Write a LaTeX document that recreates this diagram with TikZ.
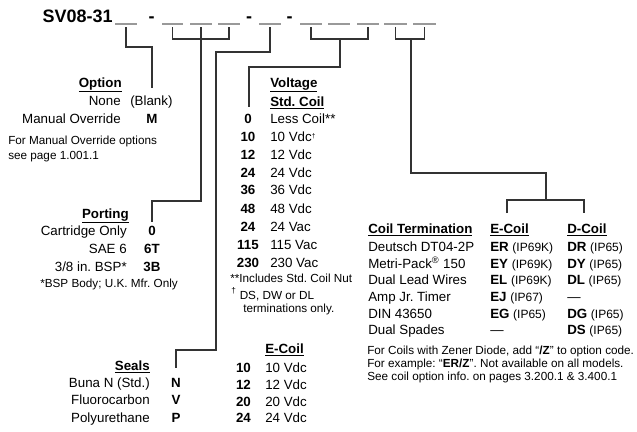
\documentclass[tikz,border=0pt]{standalone}
\usepackage{fontspec}
\setmainfont{Liberation Sans}
\begin{document}
\frenchspacing
\begin{tikzpicture}[x=0.75pt,y=-0.75pt,
  lbl/.style={inner sep=0pt,font=\fontsize{10}{12}\selectfont},
  hdr/.style={inner sep=0pt,font=\fontsize{10}{12}\selectfont\bfseries},
  code/.style={inner sep=0pt,font=\fontsize{10}{12}\selectfont\bfseries},
  note/.style={inner sep=0pt,font=\fontsize{8.8}{10.5}\selectfont},
  conn/.style={draw=black!80,line width=0.9pt},
  blank/.style={draw=black!40,line width=1.1pt}]
\useasboundingbox (0,0) rectangle (637,432);
% model code
\node[inner sep=0pt,anchor=base east,font=\fontsize{13.5}{16}\selectfont\bfseries] (model) at (113,22) {SV08-31};
\foreach \a/\b [count=\k] in {115/137,162/183,190/212,218/240,259/281,300/322,328/350,357/379,384/407,413/436}{
  \draw[blank] (\a,24) -- (\b,24);
  \coordinate (b\k) at ({(\a+\b)/2},27);
}
\foreach \x [count=\k] in {151.5,249,289.5}
  \node[inner sep=0pt,anchor=base,font=\fontsize{13.5}{16}\selectfont\bfseries] (dash\k) at (\x,22) {-};
% option
\node[hdr,anchor=base east] (opthd) at (122,87) {\underline{Option}};
\node[lbl,anchor=base east] (optnone) at (121,105) {None};
\node[lbl,anchor=base west] (optblank) at (130,105) {(Blank)};
\node[lbl,anchor=base east] (optman) at (121,123) {Manual Override};
\node[code,anchor=base] (optM) at (152,123) {M};
\node[note,anchor=base west] (optnote1) at (8,144) {For Manual Override options};
\node[note,anchor=base west] (optnote2) at (8,159) {see page 1.001.1};
\coordinate (optend) at (152,88);
\draw[conn] (b1) -- ++(0,20) -| (optend);
% porting
\node[hdr,anchor=base east] (porthd) at (129,218) {\underline{Porting}};
\foreach \t/\c [count=\i] in {Cartridge Only/0,SAE 6/6T,{3/8 in. BSP*}/3B}{
  \node[lbl,anchor=base east] (portt\i) at (127,{218+17.7*\i}) {\t};
  \node[code,anchor=base] (portc\i) at (152,{218+17.7*\i}) {\c};
}
\node[note,anchor=base west] (portnote) at (40,287) {*BSP Body; U.K. Mfr. Only};
\coordinate (portend) at (152,222);
\draw[conn] (b2) -- ++(0,12) -| (b4);
\draw[conn] (b3) -- ++(0,174) -| (portend);
% seals
\node[hdr,anchor=base east] (sealhd) at (150,370) {\underline{Seals}};
\foreach \t/\c [count=\i] in {Buna N (Std.)/N,Fluorocarbon/V,Polyurethane/P}{
  \node[lbl,anchor=base east] (sealt\i) at (150,{370+17.4*\i}) {\t};
  \node[code,anchor=base] (sealc\i) at (176,{370+17.4*\i}) {\c};
}
\coordinate (sealturn) at (216,350);
\coordinate (sealend) at (176,368);
\draw[conn] (b5) -- ++(0,25) -| (sealturn) -| (sealend);
% voltage
\node[hdr,anchor=base west] (volthd1) at (270,87) {\underline{Voltage}};
\node[hdr,anchor=base west] (volthd2) at (270,106) {\underline{Std. Coil}};
\foreach \c/\t [count=\i] in {0/Less Coil**,10/10 Vdc{\tiny\textsuperscript{\textdagger}},12/12 Vdc,24/24 Vdc,36/36 Vdc,48/48 Vdc,24/24 Vac,115/115 Vac,230/230 Vac}{
  \node[code,anchor=base] (vnum\i) at (248,{105+18*\i}) {\c};
  \node[lbl,anchor=base west] (vtxt\i) at (270,{105+18*\i}) {\t};
}
\node[note,anchor=base west] (vnote1) at (230,282) {**Includes Std. Coil Nut};
\node[note,anchor=base west] (vnote2) at (231,299) {\textsuperscript{\textdagger}\ DS, DW or DL};
\node[note,anchor=base west] (vnote3) at (243,312) {terminations only.};
\coordinate (vmid) at (340,39);
\coordinate (voltend) at (249,107);
\draw[conn] (b6) -- ++(0,12) -| (b8);
\draw[conn] (vmid) -- ++(0,28) -| (voltend);
% e-coil voltages
\node[hdr,anchor=base west] (ecoilhd) at (265,353) {\underline{E-Coil}};
\foreach \c [count=\i] in {10,12,20,24}{
  \node[code,anchor=base] (enum\i) at (243.5,{356+16.7*\i}) {\c};
  \node[lbl,anchor=base west] (etxt\i) at (265,{356+16.7*\i}) {\c\ Vdc};
}
% coil termination
\node[hdr,anchor=base west] (termhd) at (368,233) {\underline{Coil Termination}};
\node[hdr,anchor=base west] (termE) at (490,233) {\underline{E-Coil}};
\node[hdr,anchor=base west] (termD) at (567,233) {\underline{D-Coil}};
\foreach \t/\e/\d [count=\i] in {%
  Deutsch DT04-2P/\textbf{ER} {\small(IP69K)}/\textbf{DR} {\small(IP65)},
  Metri-Pack\textsuperscript{\textregistered} 150/\textbf{EY} {\small(IP69K)}/\textbf{DY} {\small(IP65)},
  Dual Lead Wires/\textbf{EL} {\small(IP69K)}/\textbf{DL} {\small(IP65)},
  Amp Jr. Timer/\textbf{EJ} {\small(IP67)}/\textemdash,
  DIN 43650/\textbf{EG} {\small(IP65)}/\textbf{DG} {\small(IP65)},
  Dual Spades/\textemdash/\textbf{DS} {\small(IP65)}}{
  \node[lbl,anchor=base west] (term\i) at (368,{235+16.6*\i}) {\t};
  \node[lbl,anchor=base west] (tE\i) at (490,{235+16.6*\i}) {\e};
  \node[lbl,anchor=base west] (tD\i) at (567,{235+16.6*\i}) {\d};
}
\node[note,anchor=base west] (tnote1) at (367,354) {For Coils with Zener Diode, add \textquotedblleft\textbf{/Z}\textquotedblright\ to option code.};
\node[note,anchor=base west] (tnote2) at (367,367) {For example: \textquotedblleft\textbf{ER/Z}\textquotedblright. Not available on all models.};
\node[note,anchor=base west] (tnote3) at (367,380) {See coil option info. on pages 3.200.1 \& 3.400.1};
\coordinate (cmid) at (411,39);
\coordinate (cjoin) at (546,200);
\coordinate (cE) at (507,213);
\coordinate (cD) at (584,213);
\draw[conn] (b9) -- ++(0,12) -| (b10);
\draw[conn] (cmid) -- ++(0,134) -| (cjoin);
\draw[conn] (cE) -- ++(0,-13) -| (cD);
\end{tikzpicture}
\end{document}
